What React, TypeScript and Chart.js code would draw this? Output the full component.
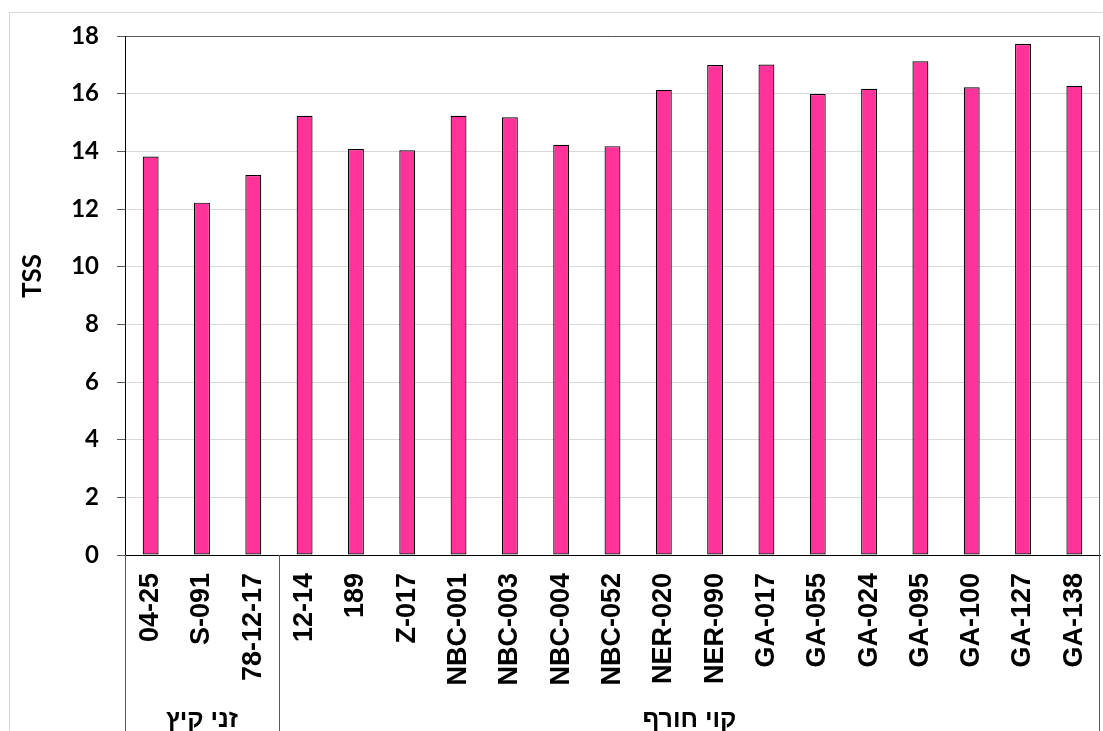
import React, { useEffect, useRef } from "react";
import { Chart, registerables } from "chart.js";

Chart.register(...registerables);

const categories = [
  "04-25", "S-091", "78-12-17", "12-14", "189", "Z-017", "NBC-001", "NBC-003",
  "NBC-004", "NBC-052", "NER-020", "NER-090", "GA-017", "GA-055", "GA-024",
  "GA-095", "GA-100", "GA-127", "GA-138",
];
const tssValues = [
  13.82, 12.22, 13.18, 15.23, 14.08, 14.04, 15.23, 15.18,
  14.23, 14.18, 16.13, 16.99, 17.01, 15.99, 16.17,
  17.12, 16.22, 17.72, 16.27,
];
const groupLabels = ["זני קיץ", "קוי חורף"];
const groupSizes = [3, 16];
const yTitle = "TSS";

const W = 1103;
const H = 731;

const decorPlugin = {
  id: "decor",
  beforeDraw(chart: any) {
    const ctx = chart.ctx;
    ctx.save();
    ctx.strokeStyle = "#d9d9d9";
    ctx.lineWidth = 1;
    ctx.strokeRect(9.5, 12.5, W + 50, H + 50);
    ctx.restore();
  },
  afterDraw(chart: any) {
    const ctx = chart.ctx;
    const area = chart.chartArea;
    const xs = chart.scales.x;
    ctx.save();
    ctx.strokeStyle = "#595959";
    ctx.lineWidth = 1;
    ctx.beginPath();
    ctx.moveTo(Math.round(area.left) + 0.5, Math.round(area.top) + 0.5);
    ctx.lineTo(Math.round(area.right) - 0.5, Math.round(area.top) + 0.5);
    ctx.lineTo(Math.round(area.right) - 0.5, H);
    ctx.stroke();
    const bounds: number[] = [area.left];
    let idx = 0;
    for (let g = 0; g < groupSizes.length; g++) {
      idx += groupSizes[g];
      if (idx < categories.length) {
        bounds.push((xs.getPixelForValue(idx - 1) + xs.getPixelForValue(idx)) / 2);
      } else {
        bounds.push(area.right);
      }
    }
    ctx.beginPath();
    for (let i = 0; i < bounds.length - 1; i++) {
      const x = Math.round(bounds[i]) + 0.5;
      ctx.moveTo(x, area.bottom);
      ctx.lineTo(x, H);
    }
    ctx.stroke();
    ctx.fillStyle = "#000";
    ctx.font = 'bold 25px "Liberation Sans", Arial, sans-serif';
    ctx.textAlign = "center";
    ctx.textBaseline = "alphabetic";
    for (let g = 0; g < groupLabels.length; g++) {
      const cx = (bounds[g] + bounds[g + 1]) / 2;
      ctx.fillText(groupLabels[g], cx, 727);
    }
    ctx.font = 'bold 26px Lato, "Noto Sans", sans-serif';
    ctx.translate(33, 276);
    ctx.rotate(-Math.PI / 2);
    ctx.textBaseline = "middle";
    ctx.fillText(yTitle, 0, 0);
    ctx.restore();
  },
};

export default function App() {
  const ref = useRef<HTMLCanvasElement>(null);
  useEffect(() => {
    if (!ref.current) return;
    const chart = new Chart(ref.current, {
      type: "bar",
      data: {
        labels: categories,
        datasets: [
          {
            data: tssValues,
            backgroundColor: "#FF3399",
            borderColor: "#000000",
            borderWidth: 1.2,
            borderSkipped: false,
            barPercentage: 0.31,
            categoryPercentage: 1,
          },
        ],
      },
      options: {
        responsive: false,
        animation: false,
        layout: { padding: { top: 36, right: 3, left: 0, bottom: 0 } },
        plugins: {
          legend: { display: false },
          tooltip: { enabled: false },
          title: { display: false },
        },
        scales: {
          x: {
            grid: { display: false, drawTicks: false },
            border: { display: true, color: "#000000", width: 1 },
            ticks: {
              color: "#000",
              font: { family: '"Liberation Sans", Arial, sans-serif', weight: "bold", size: 27 },
              minRotation: 90,
              maxRotation: 90,
              padding: 18,
              autoSkip: false,
            },
            afterFit(scale: any) {
              scale.height = H - 555;
              scale.paddingLeft = 0;
              scale.paddingRight = 0;
            },
          },
          y: {
            min: 0,
            max: 18,
            ticks: {
              stepSize: 2,
              color: "#000",
              padding: 18,
              font: { family: 'Lato, "Noto Sans", sans-serif', weight: "bold", size: 24 },
            },
            grid: {
              color: "#d9d9d9",
              tickColor: "#595959",
              tickLength: 8,
              drawTicks: true,
            },
            border: { display: true, color: "#000000", width: 1 },
            afterFit(scale: any) {
              scale.width = 125;
              scale.paddingTop = 0;
              scale.paddingBottom = 0;
            },
          },
        },
      },
      plugins: [decorPlugin],
    });
    return () => chart.destroy();
  }, []);
  return (
    <div style={{ position: "fixed", left: 0, top: 0, width: W, height: H, background: "#fff" }}>
      <canvas ref={ref} width={W} height={H} style={{ width: W, height: H }} />
    </div>
  );
}
